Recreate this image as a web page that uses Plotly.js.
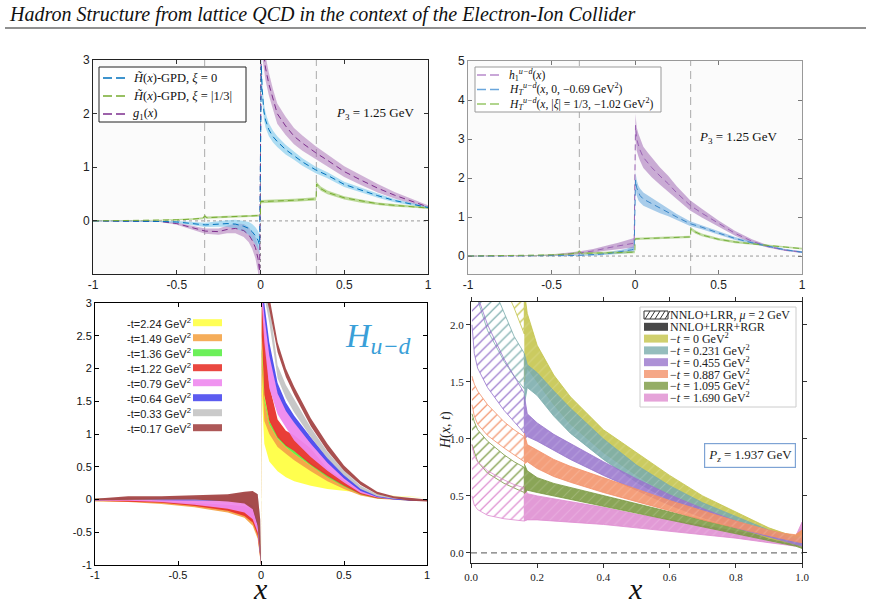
<!DOCTYPE html>
<html>
<head>
<meta charset="utf-8">
<script src="https://cdn.plot.ly/plotly-3.0.1.min.js"></script>
<style>
  html, body { margin: 0; padding: 0; background: #fff; }
  #chart { width: 871px; height: 609px; }
</style>
</head>
<body>
<div id="chart"></div>
<script>
// ===== Top-left: helicity GPDs and g1 (central value and uncertainty) =====
const xHel = [-1,-0.8,-0.6,-0.5,-0.4,-0.33,-0.25,-0.2,-0.15,-0.1,-0.07,-0.05,-0.03,-0.015,-0.005,
              0.005,0.01,0.02,0.03,0.05,0.075,0.1,0.15,0.2,0.25,0.33,0.4,0.5,0.6,0.7,0.8,0.9,1];
const htXi0    = [0,0,-0.01,-0.02,-0.05,-0.075,-0.06,-0.05,-0.06,-0.1,-0.14,-0.2,-0.28,-0.36,-0.45,
                  2.9,2.45,2.05,1.88,1.7,1.57,1.48,1.33,1.22,1.1,0.95,0.85,0.68,0.57,0.47,0.38,0.31,0.25];
const htXi0Err = [0.005,0.01,0.01,0.02,0.03,0.04,0.05,0.06,0.08,0.1,0.12,0.14,0.16,0.17,0.18,
                  0.2,0.17,0.15,0.14,0.12,0.11,0.1,0.09,0.08,0.07,0.06,0.055,0.05,0.045,0.04,0.03,0.025,0.02];
const g1       = [0,0,-0.01,-0.05,-0.13,-0.19,-0.2,-0.16,-0.14,-0.18,-0.26,-0.36,-0.5,-0.7,-0.95,
                  3.6,3.35,3.05,2.85,2.55,2.25,2.0,1.77,1.58,1.45,1.27,1.13,0.92,0.76,0.61,0.48,0.37,0.26];
const g1Err    = [0.005,0.01,0.01,0.02,0.04,0.05,0.06,0.07,0.09,0.12,0.14,0.16,0.2,0.25,0.3,
                  0.3,0.28,0.25,0.23,0.21,0.2,0.19,0.17,0.15,0.14,0.12,0.11,0.1,0.09,0.08,0.06,0.05,0.03];
const xXi3     = [-1,-0.8,-0.6,-0.5,-0.4,-0.345,-0.333,-0.32,-0.25,-0.15,-0.05,-0.001,
                  0.001,0.1,0.2,0.332,0.334,0.36,0.4,0.5,0.6,0.7,0.8,0.9,1];
const htXi3    = [0,0.005,0.01,0.02,0.035,0.05,0.09,0.06,0.07,0.08,0.095,0.1,
                  0.36,0.37,0.385,0.41,0.69,0.6,0.53,0.43,0.37,0.32,0.29,0.27,0.24];
const htXi3Err = [0.003,0.005,0.01,0.01,0.015,0.02,0.03,0.02,0.02,0.02,0.02,0.02,
                  0.03,0.03,0.03,0.03,0.04,0.04,0.035,0.03,0.03,0.025,0.025,0.02,0.02];

// ===== Top-right: transversity h1 and H_T GPDs =====
const xTr = [-1,-0.8,-0.6,-0.5,-0.4,-0.33,-0.25,-0.2,-0.15,-0.1,-0.05,-0.02,-0.005,
             0.003,0.01,0.02,0.03,0.05,0.075,0.1,0.15,0.2,0.25,0.33,0.4,0.5,0.6,0.7,0.75,0.8,0.9,1];
const h1      = [0,0,0.01,0.02,0.05,0.08,0.13,0.18,0.22,0.26,0.3,0.32,0.33,
                 3.35,3.0,2.85,2.72,2.53,2.4,2.27,2.05,1.85,1.62,1.3,1.1,0.83,0.58,0.38,0.3,0.24,0.15,0.1];
const h1Err   = [0.005,0.01,0.01,0.02,0.03,0.04,0.05,0.06,0.07,0.08,0.1,0.12,0.13,
                 0.3,0.3,0.29,0.28,0.27,0.26,0.25,0.22,0.2,0.17,0.13,0.11,0.08,0.06,0.05,0.04,0.03,0.02,0.02];
const hT0     = [0,0,0,0.005,0.01,0.02,0.03,0.05,0.07,0.1,0.13,0.16,0.18,
                 1.95,1.75,1.62,1.55,1.46,1.4,1.34,1.22,1.12,1.0,0.83,0.74,0.59,0.45,0.34,0.29,0.25,0.16,0.1];
const hT0Err  = [0.003,0.005,0.005,0.01,0.01,0.015,0.02,0.03,0.04,0.05,0.06,0.07,0.08,
                 0.2,0.2,0.19,0.18,0.17,0.16,0.15,0.12,0.1,0.08,0.06,0.05,0.045,0.04,0.03,0.03,0.025,0.02,0.02];
const hT3     = [0,0.01,0.02,0.03,0.05,0.08,0.12,0.07,0.075,0.085,0.095,0.1,
                 0.44,0.46,0.47,0.49,0.7,0.62,0.54,0.43,0.36,0.31,0.27,0.23,0.19];
const hT3Err  = [0.003,0.01,0.01,0.015,0.02,0.03,0.04,0.03,0.03,0.03,0.03,0.03,
                 0.03,0.03,0.03,0.03,0.04,0.04,0.035,0.03,0.03,0.025,0.02,0.02,0.02];

// ===== Bottom-left: H_{u-d}(x) for several momentum transfers (lower / upper edges) =====
const xHud = [-1,-0.8,-0.6,-0.4,-0.2,-0.1,-0.05,-0.02,-0.005,0,
              0.005,0.02,0.05,0.1,0.15,0.2,0.3,0.4,0.5,0.6,0.7,0.8,0.9,1];
const tLabels = ['2.24','1.49','1.36','1.22','0.79','0.64','0.33','0.17'];
const tColors = ['#ffff44','#f4a448','#5cee48','#e8342c','#ee88ee','#4a4aee','#c4c4c4','#a44646'];
const hudLo = {
  '2.24': [-0.01,-0.01,-0.02,-0.04,-0.06,-0.1,-0.15,-0.35,-0.7,-1,  1.6,0.85,0.58,0.43,0.34,0.28,0.21,0.16,0.13,0.1,0.07,0.05,0.04,0.03],
  '1.49': [-0.03,-0.04,-0.07,-0.12,-0.2,-0.28,-0.4,-0.6,-0.9,-1,     2.0,1.2,1.0,0.8,0.7,0.6,0.43,0.28,0.16,0.06,0.01,-0.01,-0.02,-0.02],
  '1.36': [-0.02,-0.02,-0.04,-0.08,-0.13,-0.18,-0.25,-0.45,-0.8,-1,  2.2,1.5,1.15,0.93,0.8,0.7,0.52,0.34,0.2,0.08,0.02,0.0,-0.01,-0.01],
  '1.22': [-0.02,-0.03,-0.05,-0.1,-0.17,-0.25,-0.35,-0.55,-0.85,-1,  2.5,1.6,1.2,0.95,0.82,0.74,0.53,0.36,0.21,0.08,0.02,0.0,-0.01,-0.02],
  '0.79': [-0.02,-0.02,-0.04,-0.08,-0.14,-0.2,-0.3,-0.5,-0.85,-1,    3.0,2.4,1.7,1.3,1.1,0.9,0.65,0.44,0.26,0.1,0.03,0.0,-0.01,-0.02],
  '0.64': [-0.01,0.0,-0.01,-0.01,-0.02,-0.04,-0.12,-0.4,-0.8,-1,     3.2,2.8,2.2,1.62,1.35,1.17,0.85,0.56,0.32,0.13,0.04,0.0,-0.02,-0.02],
  '0.33': [-0.01,0,0,0,-0.01,-0.03,-0.1,-0.35,-0.75,-1,              3.3,3.1,2.7,1.85,1.55,1.33,0.95,0.63,0.37,0.16,0.05,0.01,-0.01,-0.02],
  '0.17': [-0.01,0.0,0.0,0.0,-0.03,-0.06,-0.15,-0.4,-0.8,-1,         3.4,3.2,2.9,2.25,1.87,1.6,1.12,0.74,0.44,0.22,0.08,0.02,-0.02,-0.03]
};
const hudHi = {
  '2.24': [0.02,0.01,0.0,-0.01,-0.02,-0.03,-0.06,-0.25,-0.6,-1,      3.5,1.7,1.25,1.0,0.85,0.75,0.55,0.38,0.24,0.12,0.07,0.06,0.05,0.04],
  '1.49': [-0.01,-0.02,-0.04,-0.08,-0.13,-0.18,-0.25,-0.4,-0.75,-1,  2.3,1.5,1.15,0.93,0.8,0.7,0.52,0.36,0.21,0.09,0.03,0.01,0.0,0.0],
  '1.36': [-0.01,-0.01,-0.03,-0.07,-0.12,-0.17,-0.23,-0.42,-0.78,-1, 2.3,1.56,1.2,0.97,0.84,0.74,0.56,0.38,0.23,0.1,0.04,0.01,0.0,0.0],
  '1.22': [0,0,-0.02,-0.05,-0.08,-0.1,-0.15,-0.35,-0.7,-1,           3.2,2.6,1.75,1.22,1.05,0.98,0.78,0.47,0.29,0.12,0.04,0.02,0.01,0.0],
  '0.79': [0.0,0.01,0.0,-0.01,-0.02,-0.02,-0.05,-0.3,-0.7,-1,        3.3,2.9,2.25,1.65,1.38,1.18,0.87,0.58,0.34,0.14,0.05,0.02,0.0,-0.01],
  '0.64': [0.01,0.02,0.01,0.01,0.0,-0.01,-0.05,-0.3,-0.7,-1,         3.4,3.0,2.4,1.78,1.48,1.28,0.95,0.64,0.38,0.17,0.06,0.02,0.0,-0.01],
  '0.33': [0.01,0.03,0.03,0.04,0.06,0.1,0.12,0.08,-0.3,-1,           3.5,3.3,3.0,2.05,1.75,1.52,1.1,0.73,0.44,0.21,0.08,0.03,0.01,0.0],
  '0.17': [0.01,0.05,0.05,0.06,0.08,0.12,0.13,0.08,-0.3,-1,          3.6,3.4,3.1,2.4,2.0,1.72,1.24,0.85,0.52,0.28,0.12,0.05,0.02,0.0]
};
// back-to-front drawing order
const hudOrder = ['2.24','1.49','1.36','1.22','0.79','0.64','0.33','0.17'];

// ===== Bottom-right: H(x,t) at P_z = 1.937 GeV =====
const tValues = ['0','0.231','0.455','0.887','1.095','1.690'];
const tRGB = {'0':[196,196,74],'0.231':[122,172,172],'0.455':[152,118,204],
              '0.887':[242,145,105],'1.095':[122,152,64],'1.690':[222,140,208]};
// small-x region: perturbative matching only (hatched)
const xSmall = [0.003,0.01,0.02,0.05,0.1,0.13,0.161];
const smallLo = {
  '0':     [4.0,3.5,3.2,2.8,2.35,2.15,1.92],
  '0.231': [2.6,2.4,2.22,1.95,1.68,1.55,1.44],
  '0.455': [2.0,1.75,1.62,1.45,1.25,1.15,1.05],
  '0.887': [1.3,1.2,1.13,1.03,0.92,0.86,0.8],
  '1.095': [0.95,0.88,0.8,0.7,0.61,0.57,0.53],
  '1.690': [0.5,0.42,0.38,0.33,0.3,0.29,0.28]
};
const smallHi = {
  '0':     [4.5,4.0,3.6,3.2,2.7,2.45,2.22],
  '0.231': [3.2,2.9,2.7,2.45,2.1,1.9,1.75],
  '0.455': [2.6,2.4,2.25,2.0,1.7,1.55,1.4],
  '0.887': [1.55,1.48,1.42,1.3,1.15,1.08,1.02],
  '1.095': [1.22,1.15,1.08,0.98,0.86,0.8,0.75],
  '1.690': [0.95,0.85,0.8,0.72,0.64,0.6,0.57]
};
// moderate/large-x region: with renormalization-group resummation (solid)
const xLarge = [0.161,0.17,0.2,0.25,0.3,0.4,0.5,0.6,0.7,0.8,0.9,0.95,0.98,1.0];
const largeLo = {
  '0':     [1.5,1.62,1.5,1.3,1.13,0.88,0.68,0.5,0.35,0.23,0.13,0.1,0.08,0.06],
  '0.231': [1.3,1.45,1.38,1.2,1.05,0.82,0.62,0.46,0.34,0.24,0.15,0.11,0.09,0.07],
  '0.455': [1.0,1.02,0.98,0.9,0.82,0.68,0.55,0.42,0.31,0.22,0.14,0.1,0.08,0.06],
  '0.887': [0.78,0.8,0.74,0.67,0.62,0.53,0.45,0.37,0.29,0.22,0.15,0.12,0.1,0.09],
  '1.095': [0.52,0.55,0.53,0.5,0.47,0.41,0.35,0.29,0.23,0.17,0.11,0.08,0.06,0.04],
  '1.690': [0.28,0.29,0.29,0.28,0.27,0.25,0.22,0.19,0.16,0.13,0.09,0.07,0.06,0.08]
};
const largeHi = {
  '0':     [2.3,2.1,1.82,1.56,1.37,1.08,0.88,0.68,0.5,0.36,0.22,0.17,0.15,0.2],
  '0.231': [1.75,1.65,1.58,1.42,1.27,1.0,0.77,0.59,0.44,0.32,0.2,0.16,0.14,0.15],
  '0.455': [1.38,1.22,1.14,1.04,0.96,0.8,0.65,0.51,0.39,0.28,0.18,0.14,0.12,0.13],
  '0.887': [1.05,0.95,0.9,0.82,0.76,0.66,0.56,0.46,0.37,0.28,0.2,0.17,0.16,0.2],
  '1.095': [0.78,0.72,0.66,0.61,0.57,0.5,0.43,0.36,0.29,0.22,0.15,0.12,0.1,0.12],
  '1.690': [0.6,0.52,0.5,0.47,0.45,0.4,0.34,0.29,0.24,0.19,0.14,0.13,0.14,0.27]
};
const largeOrder = ['1.690','1.095','0','0.231','0.455','0.887'];

// ---------- helpers ----------
const W = 871, H = 609;
const px = v => v / W;
const py = v => 1 - v / H;
const rgba = (c, a) => 'rgba(' + c[0] + ',' + c[1] + ',' + c[2] + ',' + a + ')';
const SERIF = 'Liberation Serif, DejaVu Serif, serif';
const SANS = 'Liberation Sans, Arial, sans-serif';

function band(x, lo, hi, fill, ax, extra) {
  return Object.assign({
    type: 'scatter', mode: 'lines',
    x: x.concat(x.slice().reverse()),
    y: lo.concat(hi.slice().reverse()),
    fill: 'toself', fillcolor: fill,
    line: {width: 0, color: fill},
    xaxis: 'x' + ax, yaxis: 'y' + ax,
    hoverinfo: 'skip', showlegend: false
  }, extra || {});
}
function errBand(x, c, e, fill, ax) {
  return band(x, c.map((v, i) => v - e[i]), c.map((v, i) => v + e[i]), fill, ax);
}
function centre(x, c, color, ax) {
  return {type: 'scatter', mode: 'lines', x: x, y: c,
          line: {color: color, width: 1, dash: '6px,4px'},
          xaxis: 'x' + ax, yaxis: 'y' + ax, hoverinfo: 'skip', showlegend: false};
}

const traces = [];

// top-left
const topLeft = [
  {x: xHel, c: g1,     e: g1Err,     line: '#7E2F8E', fill: 'rgba(165,105,178,0.5)'},
  {x: xHel, c: htXi0,  e: htXi0Err,  line: '#0072BD', fill: 'rgba(110,195,235,0.55)'},
  {x: xXi3, c: htXi3,  e: htXi3Err,  line: '#77AC30', fill: 'rgba(145,195,85,0.6)'}
];
topLeft.forEach(s => traces.push(errBand(s.x, s.c, s.e, s.fill, '')));
topLeft.forEach(s => traces.push(centre(s.x, s.c, s.line, '')));

// top-right
const topRight = [
  {x: xTr,  c: h1,  e: h1Err,  line: '#9a62b4', fill: 'rgba(160,105,180,0.55)'},
  {x: xTr,  c: hT0, e: hT0Err, line: '#3a86c8', fill: 'rgba(100,165,220,0.55)'},
  {x: xXi3, c: hT3, e: hT3Err, line: '#78b040', fill: 'rgba(150,198,95,0.6)'}
];
topRight.forEach(s => traces.push(errBand(s.x, s.c, s.e, s.fill, '2')));
topRight.forEach(s => traces.push(centre(s.x, s.c, s.line, '2')));

// bottom-left
hudOrder.forEach(t => {
  const col = tColors[tLabels.indexOf(t)];
  traces.push(band(xHud, hudLo[t], hudHi[t], col, '3', {opacity: 0.95}));
});

// bottom-right: hatched small-x bands
tValues.forEach(t => {
  const c = tRGB[t];
  traces.push(band(xSmall, smallLo[t], smallHi[t], 'rgba(255,255,255,0)', '4', {
    line: {width: 0.9, color: rgba(c, 0.9)},
    fillpattern: {shape: '/', fgcolor: rgba(c, 0.95), bgcolor: 'rgba(255,255,255,0)',
                  size: 7, solidity: 0.18, fillmode: 'replace'}
  }));
});
// bottom-right: solid bands with hatch overlay
largeOrder.forEach(t => {
  const c = tRGB[t];
  traces.push(band(xLarge, largeLo[t], largeHi[t], rgba(c, 0.88), '4', {
    line: {width: 0.8, color: rgba(c, 1)},
    fillpattern: {shape: '/', fgcolor: 'rgba(255,255,255,0.35)', bgcolor: rgba(c, 0.88),
                  size: 7, solidity: 0.15, fillmode: 'overlay'}
  }));
});

// ---------- axes ----------
function axis(domain, range, extra) {
  return Object.assign({
    domain: domain, range: range, showgrid: false, zeroline: false,
    showline: true, mirror: 'ticks', ticks: 'inside', ticklen: 4,
    linecolor: '#333', tickcolor: '#333', linewidth: 1,
    tickfont: {family: SANS, size: 12, color: '#222'}
  }, extra);
}
const xTopTicks = {tickvals: [-1, -0.5, 0, 0.5, 1], ticktext: ['-1', '-0.5', '0', '0.5', '1']};

const layout = {
  width: W, height: H,
  margin: {l: 0, r: 0, t: 0, b: 0},
  paper_bgcolor: '#ffffff', plot_bgcolor: 'rgba(0,0,0,0)',
  showlegend: false,
  xaxis:  axis([px(93), px(428)], [-1, 1], Object.assign({anchor: 'y', linecolor: '#222'}, xTopTicks)),
  yaxis:  axis([py(274), py(60)], [-0.99, 3], {anchor: 'x', tickvals: [0, 1, 2, 3], linecolor: '#222'}),
  xaxis2: axis([px(468), px(802)], [-1, 1], Object.assign({anchor: 'y2', linecolor: '#999', tickcolor: '#777'}, xTopTicks)),
  yaxis2: axis([py(274), py(61)], [-0.46, 5], {anchor: 'x2', tickvals: [0, 1, 2, 3, 4, 5], linecolor: '#999', tickcolor: '#777'}),
  xaxis3: axis([px(95), px(427)], [-1, 1], Object.assign({anchor: 'y3', linecolor: '#000', tickcolor: '#000',
            tickfont: {family: SANS, size: 11, color: '#111'}}, xTopTicks)),
  yaxis3: axis([py(565), py(303)], [-1, 3], {anchor: 'x3', linecolor: '#000', tickcolor: '#000',
            tickvals: [-1, -0.5, 0, 0.5, 1, 1.5, 2, 2.5, 3],
            ticktext: ['-1', '-0.5', '0', '0.5', '1', '1.5', '2', '2.5', '3'],
            tickfont: {family: SANS, size: 11, color: '#111'}}),
  xaxis4: axis([px(471), px(802)], [0, 1], {anchor: 'y4', ticks: 'outside', linecolor: '#222',
            tickvals: [0, 0.2, 0.4, 0.6, 0.8, 1], ticktext: ['0.0', '0.2', '0.4', '0.6', '0.8', '1.0'],
            tickfont: {family: SERIF, size: 11, color: '#222'}}),
  yaxis4: axis([py(563), py(302)], [-0.088, 2.2], {anchor: 'x4', ticks: 'outside', linecolor: '#222',
            tickvals: [0, 0.5, 1, 1.5, 2], ticktext: ['0.0', '0.5', '1.0', '1.5', '2.0'],
            tickfont: {family: SERIF, size: 11, color: '#222'}}),
  shapes: [], annotations: []
};

const shapes = layout.shapes, notes = layout.annotations;
// paper-anchored text with explicit anchoring
function note(x, y, text, font, extra) {
  notes.push(Object.assign({xref: 'paper', yref: 'paper', x: px(x), y: py(y),
    xanchor: 'center', yanchor: 'middle', showarrow: false, text: text, font: font}, extra || {}));
}

// faint panel backgrounds for the top row
[['x', 'y'], ['x2', 'y2']].forEach(r => shapes.push({type: 'rect', xref: r[0] + ' domain', yref: r[1] + ' domain',
  x0: 0, x1: 1, y0: 0, y1: 1, fillcolor: '#fbfbfb', line: {width: 0}, layer: 'below'}));

// reference lines in the top row
['', '2'].forEach(a => {
  [-1 / 3, 1 / 3].forEach(v => shapes.push({type: 'line', xref: 'x' + a, yref: 'y' + a + ' domain',
    x0: v, x1: v, y0: 0, y1: 1, line: {color: '#aaaaaa', width: 1, dash: '8px,5px'}, layer: 'below'}));
  shapes.push({type: 'line', xref: 'x' + a + ' domain', yref: 'y' + a, x0: 0, x1: 1, y0: 0, y1: 0,
    line: {color: '#999', width: 1, dash: 'dot'}, layer: 'below'});
});
shapes.push({type: 'line', xref: 'x', yref: 'y domain', x0: 0, x1: 0, y0: 0, y1: 1,
  line: {color: '#999', width: 1, dash: 'dot'}, layer: 'below'});
// zero line, bottom-right
shapes.push({type: 'line', xref: 'x4 domain', yref: 'y4', x0: 0, x1: 1, y0: 0, y1: 0,
  line: {color: '#777', width: 1.2, dash: '6px,4px'}, layer: 'below'});

// header
note(7, 15, '<i>Hadron Structure from lattice QCD in the context of the Electron-Ion Collider</i>',
  {family: SERIF, size: 20, color: '#111'}, {xanchor: 'left'});
shapes.push({type: 'line', xref: 'paper', yref: 'paper', x0: px(5), x1: px(866), y0: py(28), y1: py(28),
  line: {color: '#222', width: 1.2}});

// legend boxes in the top row
function dashLegend(box, rows, x0, x1, tx, labels, colors, size) {
  shapes.push({type: 'rect', xref: 'paper', yref: 'paper', x0: px(box[0]), x1: px(box[2]), y0: py(box[3]), y1: py(box[1]),
    fillcolor: '#ffffff', line: {color: box[4], width: 1}});
  labels.forEach((lab, i) => {
    shapes.push({type: 'line', xref: 'paper', yref: 'paper', x0: px(x0), x1: px(x1), y0: py(rows[i]), y1: py(rows[i]),
      line: {color: colors[i], width: 1.5, dash: '9px,4px'}});
    note(tx, rows[i], lab, {family: SERIF, size: size, color: '#111'}, {xanchor: 'left'});
  });
}
const legTL = ['<i>H̃</i>(<i>x</i>)-GPD, <i>ξ</i> = 0', '<i>H̃</i>(<i>x</i>)-GPD, <i>ξ</i> = |1/3|', '<i>g</i><sub>1</sub>(<i>x</i>)'];
dashLegend([99, 67, 246, 122, '#222'], [78, 96, 114], 103, 129, 131, legTL, ['#0072BD', '#77AC30', '#7E2F8E'], 12.5);
const legTR = ['<i>h</i><sub>1</sub><sup><i>u−d</i></sup>(<i>x</i>)',
               '<i>H</i><sub><i>T</i></sub><sup><i>u−d</i></sup>(<i>x</i>, 0, −0.69 GeV<sup>2</sup>)',
               '<i>H</i><sub><i>T</i></sub><sup><i>u−d</i></sup>(<i>x</i>, |<i>ξ</i>| = 1/3, −1.02 GeV<sup>2</sup>)'];
dashLegend([475, 67, 661, 112, '#999'], [75, 89.5, 104], 477, 502, 507, legTR, ['#b88acb', '#6aa6dc', '#98c868'], 11.6);

// momentum labels
note(375, 113, '<i>P</i><sub>3</sub> = 1.25 GeV', {family: SERIF, size: 13, color: '#111'});
note(738, 138, '<i>P</i><sub>3</sub> = 1.25 GeV', {family: SERIF, size: 13, color: '#111'});

// bottom-left legend: label then colour bar
tLabels.forEach((t, i) => {
  const yy = 322.7 + 15 * i;
  note(125, yy, '-t=' + t + ' GeV<sup>2</sup>', {family: SANS, size: 11, color: '#222'}, {xanchor: 'left'});
  shapes.push({type: 'rect', xref: 'paper', yref: 'paper', x0: px(193), x1: px(222), y0: py(yy + 3.5), y1: py(yy - 3.5),
    fillcolor: tColors[i], line: {width: 0}, opacity: 0.9});
});
note(343, 338, '<i>H</i><sub><i>u−d</i></sub>', {family: SERIF, size: 34, color: '#3a9fd8'}, {xanchor: 'left'});

// bottom-right legend
shapes.push({type: 'rect', xref: 'paper', yref: 'paper', x0: px(640), x1: px(796), y0: py(407), y1: py(307),
  fillcolor: 'rgba(255,255,255,0.92)', line: {color: '#cccccc', width: 1}});
const legBR = ['NNLO+LRR, <i>μ</i> = 2 GeV', 'NNLO+LRR+RGR']
  .concat(tValues.map(t => '−<i>t</i> = ' + t + ' GeV<sup>2</sup>'));
legBR.forEach((lab, i) => {
  const yy = 315 + 11.8 * i;
  note(668, yy, lab, {family: SERIF, size: 12, color: '#222'}, {xanchor: 'left'});
  if (i === 0) {
    shapes.push({type: 'rect', xref: 'paper', yref: 'paper', x0: px(644), x1: px(668), y0: py(yy + 4), y1: py(yy - 4),
      fillcolor: '#fff', line: {color: '#333', width: 1}});
    for (let k = 0; k < 5; k++) {
      shapes.push({type: 'line', xref: 'paper', yref: 'paper',
        x0: px(645 + 5 * k), x1: px(650 + 5 * k), y0: py(yy + 4), y1: py(yy - 4), line: {color: '#333', width: 1}});
    }
  } else {
    const fill = i === 1 ? '#474747' : rgba(tRGB[tValues[i - 2]], 0.8);
    shapes.push({type: 'rect', xref: 'paper', yref: 'paper', x0: px(644), x1: px(668), y0: py(yy + 4), y1: py(yy - 4),
      fillcolor: fill, line: {width: 0}});
  }
});
note(750, 455, '<i>P<sub>z</sub></i> = 1.937 GeV', {family: SERIF, size: 13, color: '#222'},
  {bgcolor: '#ffffff', bordercolor: '#7ea3d4', borderwidth: 1.2, borderpad: 3});

// axis titles in the bottom row
note(260, 588, '<i>x</i>', {family: SERIF, size: 30, color: '#111'});
note(635, 588, '<i>x</i>', {family: SERIF, size: 30, color: '#111'});
note(446, 430, '<i>H</i>(<i>x</i>, <i>t</i>)', {family: SERIF, size: 14, color: '#222'}, {textangle: -90});

Plotly.newPlot('chart', traces, layout, {displayModeBar: false, staticPlot: true});
</script>
</body>
</html>
